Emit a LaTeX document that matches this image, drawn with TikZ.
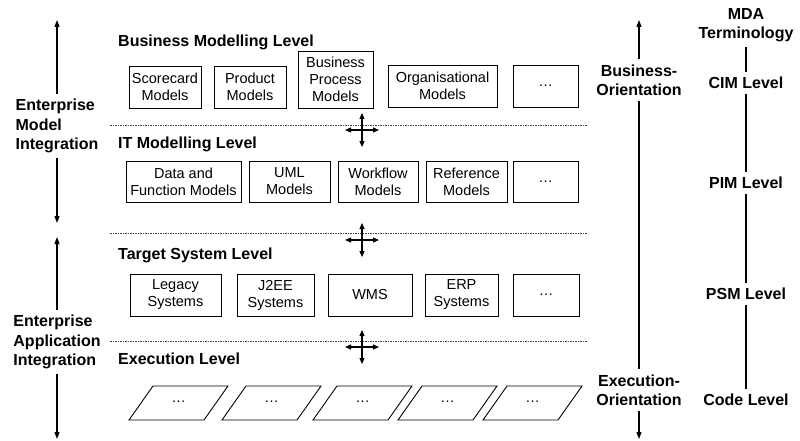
\documentclass[tikz,border=0pt]{standalone}
\usepackage{fontspec}
\setmainfont{Liberation Sans}
\usetikzlibrary{arrows.meta}

\tikzset{
  modelbox/.style={draw, line width=0.9pt, align=center, inner sep=0pt, font=\fontsize{14.5}{17}\selectfont},
  levelhead/.style={anchor=base west, inner sep=0pt, font=\fontsize{16}{19}\selectfont\bfseries},
  sidelabel/.style={align=left, inner sep=5pt, font=\fontsize{16}{19.5}\selectfont\bfseries},
  mdalabel/.style={align=center, inner sep=5pt, font=\fontsize{16}{19}\selectfont\bfseries},
  levelsep/.style={dash pattern=on 1.5pt off 1pt, line width=0.5pt, black!75},
  flow/.style={line width=1.1pt, -{Triangle[length=7pt,width=5pt]}},
  crossarr/.style={line width=1.1pt, {Triangle[length=6pt,width=5pt]}-{Triangle[length=6pt,width=5pt]}},
  plainline/.style={line width=1.1pt}
}

\begin{document}
\begin{tikzpicture}[x=1pt,y=-1pt]
            \useasboundingbox (0,0) rectangle (800,441);

            \node[levelhead] (bml) at (118,47) {Business Modelling Level};
            \node[levelhead] (itml) at (118,149) {IT Modelling Level};
            \node[levelhead] (tsl) at (118,259) {Target System Level};
            \node[levelhead] (exl) at (118,364) {Execution Level};

            \node[modelbox, minimum width=72, minimum height=42] (scorecard) at (165,87) {Scorecard\\Models};
            \node[modelbox, minimum width=72, minimum height=42] (product) at (250,87) {Product\\Models};
            \node[modelbox, minimum width=75, minimum height=57] (busproc) at (335.5,79.5) {Business\\Process\\Models};
            \node[modelbox, minimum width=109, minimum height=42] (organis) at (442.5,86) {Organisational\\Models};
            \node[modelbox, minimum width=65, minimum height=42] (bmdots) at (545.5,86) {\dots};

            \node[modelbox, minimum width=115, minimum height=41] (datafunc) at (183.5,181.5) {Data and\\Function Models};
            \node[modelbox, minimum width=81, minimum height=41] (uml) at (289.5,181.5) {UML\\Models};
            \node[modelbox, minimum width=80, minimum height=41] (workflow) at (378,181.5) {Workflow\\Models};
            \node[modelbox, minimum width=81, minimum height=41] (reference) at (466.5,181.5) {Reference\\Models};
            \node[modelbox, minimum width=65, minimum height=41] (itdots) at (545.5,181.5) {\dots};

            \node[modelbox, minimum width=91, minimum height=42] (legacy) at (175.5,295) {Legacy\\Systems};
            \node[modelbox, minimum width=77, minimum height=42] (jee) at (275.5,295) {J2EE\\Systems};
            \node[modelbox, minimum width=84, minimum height=42] (wms) at (370,295) {WMS};
            \node[modelbox, minimum width=73, minimum height=42] (erp) at (461.5,295) {ERP\\Systems};
            \node[modelbox, minimum width=66, minimum height=42] (tsdots) at (546,295) {\dots};

            \foreach \bx [count=\i] in {129,222,313,398,483} {
              \draw[line width=0.9pt] (\bx,420) -- ++(75,0) -- ++(24,-34) -- ++(-75,0) -- cycle;
              \node[font=\fontsize{14.5}{17}\selectfont] (exec\i) at (\bx+49.5,402) {\dots};
            }

            \foreach \sy in {125,233,341}
              \draw[levelsep] (110,\sy) -- (587,\sy);

            \foreach \cy in {130,240,347} {
              \draw[crossarr] (362,\cy-17) -- (362,\cy+17);
              \draw[crossarr] (345,\cy) -- (379,\cy);
            }

            \node[sidelabel] (emi) at (57,126) {Enterprise\\Model\\Integration};
            \node[sidelabel] (eai) at (57,342) {Enterprise\\Application\\Integration};
            \coordinate (emitop) at (57,20);
            \coordinate (emibot) at (57,223);
            \coordinate (eaitop) at (57,237);
            \coordinate (eaibot) at (57,439);
            \draw[flow] (emi) -- (emitop);
            \draw[flow] (emi) -- (emibot);
            \draw[flow] (eai) -- (eaitop);
            \draw[flow] (eai) -- (eaibot);

            \node[mdalabel] (busor) at (639,80) {Business-\\Orientation};
            \node[mdalabel] (execor) at (639,390) {Execution-\\Orientation};
            \coordinate (busortop) at (639,20);
            \coordinate (execorbot) at (639,439);
            \draw[flow] (busor) -- (busortop);
            \draw[plainline] (busor) -- (execor);
            \draw[flow] (execor) -- (execorbot);

            \node[mdalabel] (mda) at (746,25) {MDA\\Terminology};
            \node[mdalabel] (cim) at (746,83) {CIM Level};
            \node[mdalabel] (pim) at (746,183) {PIM Level};
            \node[mdalabel] (psm) at (746,294) {PSM Level};
            \node[mdalabel] (code) at (746,400) {Code Level};
            \draw[plainline] (mda) -- (cim);
            \draw[plainline] (cim) -- (pim);
            \draw[plainline] (pim) -- (psm);
            \draw[plainline] (psm) -- (code);

          \end{tikzpicture}
\end{document}
